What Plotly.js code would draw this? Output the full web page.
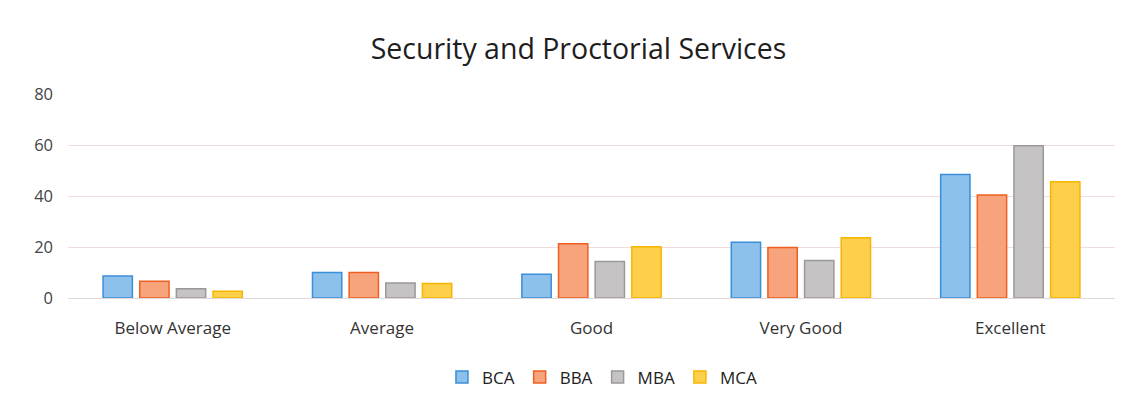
<!DOCTYPE html>
<html>
<head>
<meta charset="utf-8">
<script src="https://cdn.plot.ly/plotly-3.0.1.min.js"></script>
<style>html,body{margin:0;padding:0;background:#fff;}#chart{width:1141px;height:408px;}</style>
</head>
<body>
<div id="chart"></div>
<script>
const categories = ["Below Average", "Average", "Good", "Very Good", "Excellent"];
const seriesNames = ["BCA", "BBA", "MBA", "MCA"];
const BCA = [8.6, 10, 9.3, 21.9, 48.4];
const BBA = [6.6, 10, 21.3, 19.8, 40.4];
const MBA = [3.6, 5.9, 14.3, 14.7, 59.7];
const MCA = [2.6, 5.7, 20.1, 23.6, 45.6];
const yTicks = [0, 20, 40, 60, 80];

const fills = ["#8cc1ec", "#f7a47c", "#c5c3c3", "#fdcf4a"];
const lines = ["#3a8fd8", "#ee5f22", "#9a9898", "#f6b500"];
const values = [BCA, BBA, MBA, MCA];

const traces = seriesNames.map((n, i) => ({
  type: "bar",
  name: n,
  x: categories,
  y: values[i],
  marker: {color: fills[i], line: {color: lines[i], width: 1.5}},
  hoverinfo: "x+y+name"
}));

const layout = {
  width: 1141, height: 408,
  paper_bgcolor: "#ffffff", plot_bgcolor: "#ffffff",
  margin: {l: 68, r: 26, t: 94, b: 110},
  title: {text: "Security and Proctorial Services", x: 0.507, xanchor: "center", y: 0.88, yanchor: "middle",
          font: {family: "Open Sans, Noto Sans, sans-serif", size: 28.5, color: "#1e1e1e"}},
  barmode: "group",
  bargap: 0.3,
  bargroupgap: 0.2,
  xaxis: {type: "category", showgrid: false, showline: false, zeroline: false, ticks: "",
          ticklabelstandoff: 18,
          tickfont: {family: "Open Sans, Noto Sans, sans-serif", size: 17, color: "#333"}},
  yaxis: {range: [0, 80], tickvals: yTicks, ticktext: yTicks.map(String), showgrid: true,
          gridcolor: "#f0dcdc", gridwidth: 1, zeroline: true, zerolinecolor: "#e2d8d8", zerolinewidth: 1,
          showline: false, ticks: "", ticklabelstandoff: 14,
          tickfont: {family: "Open Sans, Noto Sans, sans-serif", size: 16.5, color: "#444"}},
  legend: {orientation: "h", x: 0.51, xanchor: "center", y: -0.39, yanchor: "middle",
           font: {family: "Open Sans, Noto Sans, sans-serif", size: 17, color: "#222"},
           itemwidth: 30, traceorder: "normal"},
  showlegend: true
};

Plotly.newPlot("chart", traces, layout, {displayModeBar: false, staticPlot: true});
</script>
</body>
</html>
